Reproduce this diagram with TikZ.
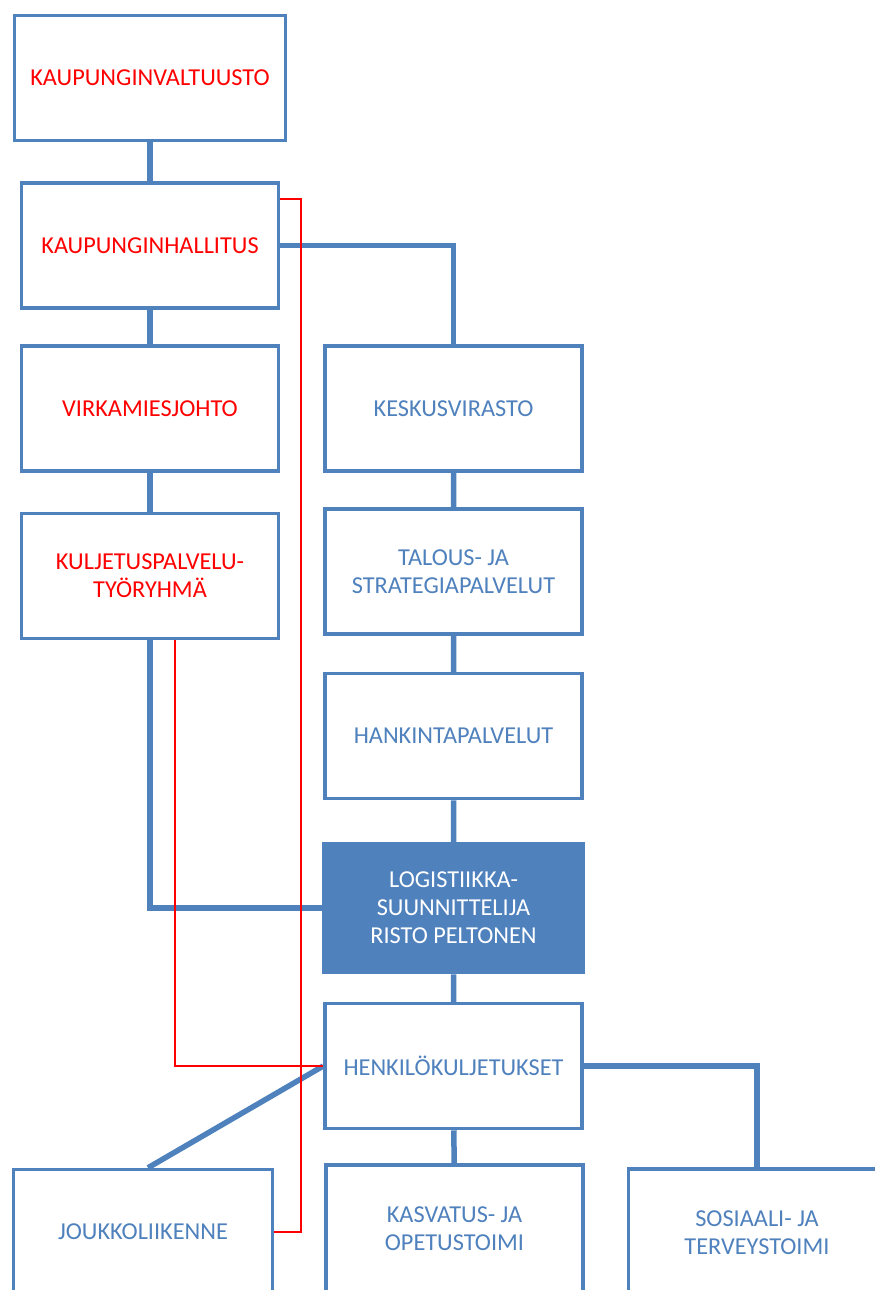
\documentclass[tikz,border=0pt]{standalone}
\usepackage{fontspec}
\setmainfont{Carlito}
\definecolor{orgblue}{RGB}{79,129,189}
\begin{document}
\begin{tikzpicture}[x=1pt,y=-1pt,
  unit/.style={draw=orgblue,line width=3.5pt,fill=white,minimum width=257pt,minimum height=125pt,
    inner sep=0pt,align=center,font=\fontsize{24.3}{28}\selectfont,text=orgblue},
  lead/.style={unit,text=red},
  link/.style={orgblue,line width=5.5pt},
  redlink/.style={red,line width=1.8pt}]
  \useasboundingbox (0,0) rectangle (875,1290);
  \clip (0,0) rectangle (875,1290);
  % left column
  \node[lead,minimum width=271pt] (valtuusto) at (150,78) {KAUPUNGINVALTUUSTO};
  \node[lead] (hallitus) at (150,245.5) {KAUPUNGINHALLITUS};
  \node[lead] (virkamies) at (150,408.5) {VIRKAMIESJOHTO};
  \node[lead] (kuljetus) at (150,576) {KULJETUSPALVELU-\\TYÖRYHMÄ};
  % right column
  \node[unit] (keskus) at (453.5,408.5) {KESKUSVIRASTO};
  \node[unit] (talous) at (453.5,571.5) {TALOUS- JA\\STRATEGIAPALVELUT};
  \node[unit] (hankinta) at (453.5,736) {HANKINTAPALVELUT};
  \node[unit,fill=orgblue,text=white,minimum width=260pt,minimum height=129pt] (logistiikka) at (453.5,908)
    {LOGISTIIKKA-\\SUUNNITTELIJA\\RISTO PELTONEN};
  \node[unit] (henkilo) at (453.5,1066) {HENKILÖKULJETUKSET};
  % bottom row
  \node[unit,minimum width=259pt] (joukko) at (143,1232) {JOUKKOLIIKENNE};
  \node[unit,minimum height=128pt] (kasvatus) at (454.5,1229) {KASVATUS- JA\\OPETUSTOIMI};
  \node[unit,minimum height=128pt] (sosiaali) at (757,1233) {SOSIAALI- JA\\TERVEYSTOIMI};
  % blue connectors
  \draw[link] (valtuusto) -- (hallitus) -- (virkamies) -- (kuljetus);
  \draw[link] (hallitus.east) -| (keskus.north);
  \draw[link] (keskus) -- (talous) -- (hankinta) -- (logistiikka) -- (henkilo) -- (kasvatus);
  \draw[link] (kuljetus.south) |- (logistiikka.west);
  \draw[link] (henkilo.east) -| (sosiaali.north);
  \draw[link] (henkilo.west) -- ([xshift=5pt]joukko.north);
  % red connectors
  \draw[redlink] ([yshift=46.5pt]hallitus.east) -| ([xshift=27pt]joukko.east) -- (joukko.east);
  \draw[redlink] ([xshift=25pt]kuljetus.south) |- (henkilo.west);
\end{tikzpicture}
\end{document}
